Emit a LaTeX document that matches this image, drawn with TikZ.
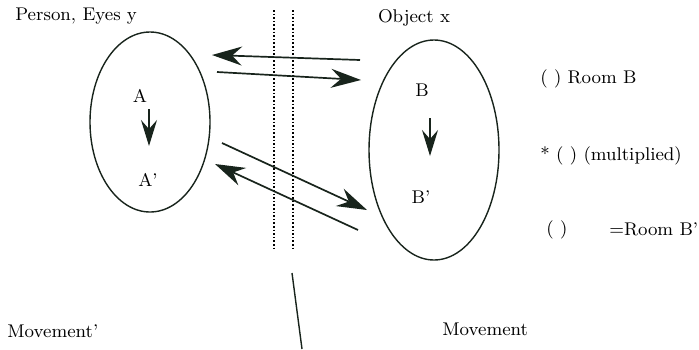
\documentclass[tikz,border=0pt]{standalone}
\usetikzlibrary{arrows.meta,shapes.geometric}
\definecolor{inkdark}{HTML}{18241C}
\tikzset{
  label text/.style={font=\fontsize{9.2}{11}\selectfont, inner sep=0pt},
  room/.style={draw=inkdark, ellipse, line width=0.7pt, inner sep=0pt},
  ray/.style={draw=inkdark, line width=0.85pt, -{Stealth[length=15pt, width=9.5pt, inset=5pt]}},
  shift arrow/.style={draw=inkdark, line width=0.8pt, -{Stealth[length=13pt, width=8pt, inset=4.5pt]}},
  wall/.style={densely dotted, line width=0.8pt}
}
\begin{document}
\begin{tikzpicture}[x=0.5pt, y=-0.5pt]
  \useasboundingbox (0,0) rectangle (699,349);

  % Person side
  \node[label text, anchor=west] (eyes) at (15,16) {Person, Eyes y};
  \node[room, minimum width=60pt, minimum height=90pt] (person) at (150,122) {};
  \node[label text] (A) at (140,96) {A};
  \node[label text] (A') at (148,180) {A'};
  \draw[shift arrow] (149,109) coordinate (a1) -- (149,146) coordinate (a2);

  % Object side
  \node[label text] (obj) at (414,18) {Object x};
  \node[room, minimum width=65pt, minimum height=110pt] (object) at (434,150) {};
  \node[label text] (B) at (422,90) {B};
  \node[label text] (B') at (421,197) {B'};
  \draw[shift arrow] (430,118) coordinate (b1) -- (430,156) coordinate (b2);

  % Wall between
  \draw[wall] (274,10) -- (274,248);
  \draw[wall] (293,10) -- (293,248);

  % Light rays
  \coordinate (r1s) at (360,60);  \coordinate (r1e) at (212,55);
  \coordinate (r2s) at (217,72);  \coordinate (r2e) at (361,80);
  \coordinate (r3s) at (222,143); \coordinate (r3e) at (367,210);
  \coordinate (r4s) at (358,230); \coordinate (r4e) at (215,164);
  \draw[ray] (r1s) -- (r1e);
  \draw[ray] (r2s) -- (r2e);
  \draw[ray] (r3s) -- (r3e);
  \draw[ray] (r4s) -- (r4e);

  % Right hand notes
  \node[label text, anchor=west] (roomB) at (540,79) {( ) Room B};
  \node[label text, anchor=west] (mult) at (540,156) {* ( ) (multiplied)};
  \node[label text, anchor=west] (paren) at (546,230) {( )};
  \node[label text, anchor=west] (roomB') at (609,229) {=Room B'};

  % Bottom
  \draw[inkdark, line width=0.7pt] (292,273) coordinate (m1) -- (302,349) coordinate (m2);
  \node[label text, anchor=west] (mov') at (7,331) {Movement'};
  \node[label text, anchor=west] (mov) at (442,329) {Movement};
\end{tikzpicture}
\end{document}
